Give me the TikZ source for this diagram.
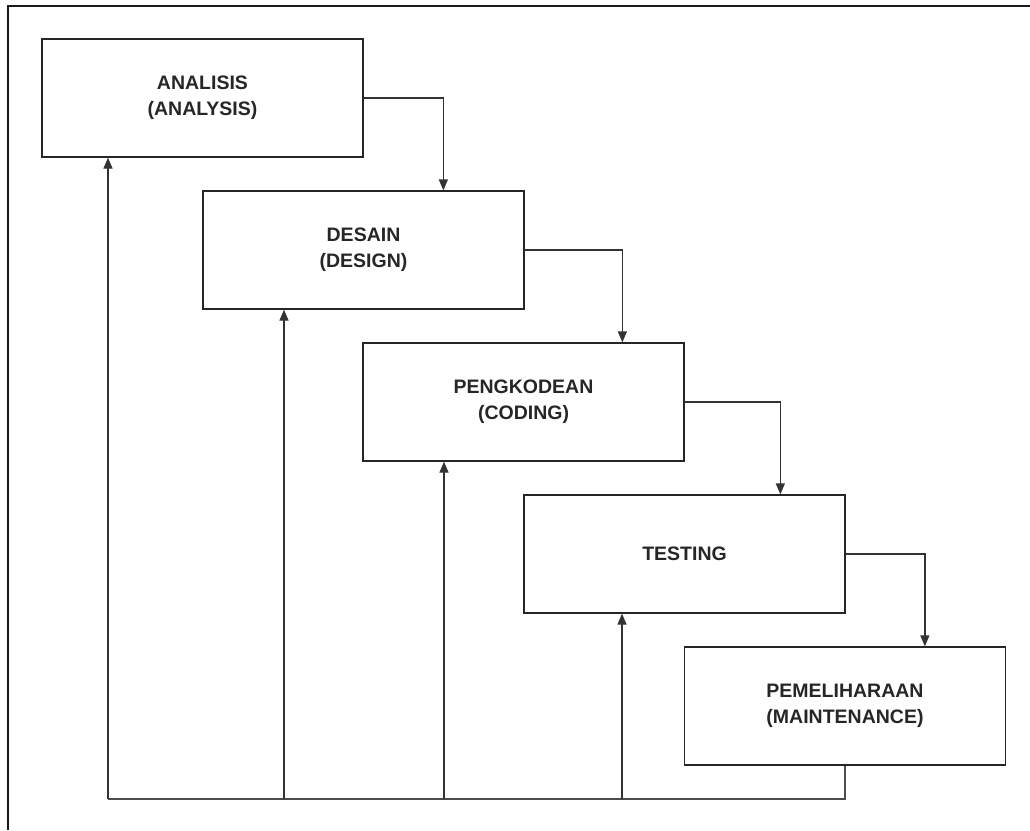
\documentclass[tikz,border=0pt]{standalone}
\usepackage{fontspec}
\setmainfont{Liberation Sans}
\usetikzlibrary{arrows.meta}
\begin{document}
\begin{tikzpicture}[x=1pt,y=-1pt,
  phase/.style={draw=black!85, line width=1.3pt, minimum width=321pt,
    minimum height=118pt, align=center, inner sep=0pt,
    font=\bfseries\fontsize{19.5}{26}\selectfont, text=black!85},
  flow/.style={draw=black!80, line width=1.3pt,
    -{Triangle[length=11pt,width=9pt]}},
  loop/.style={draw=black!70, line width=1.3pt},
]
\useasboundingbox (0,0) rectangle (1030,830);
% outer frame
\draw[line width=2pt, black!90] (8,830) -- (8,6) -- (1030,6);

% phases
\node[phase] (A) at (202.5,98) {ANALISIS\\(ANALYSIS)};
\node[phase] (D) at (363.5,250) {DESAIN\\(DESIGN)};
\node[phase] (P) at (523.5,402) {PENGKODEAN\\(CODING)};
\node[phase] (T) at (684.5,554) {TESTING};
\node[phase] (M) at (845,706) {PEMELIHARAAN\\(MAINTENANCE)};

% forward flow
\draw[flow] (A.east) -| ([xshift=241pt]D.north west);
\draw[flow] (D.east) -| ([xshift=260pt]P.north west);
\draw[flow] (P.east) -| ([xshift=257pt]T.north west);
\draw[flow] (T.east) -| ([xshift=241pt]M.north west);

% feedback loop
\coordinate (bA) at (108,799);
\coordinate (bD) at (284,799);
\coordinate (bP) at (444,799);
\coordinate (bT) at (622,799);
\draw[loop] (M.south) |- (bA);
\draw[flow] (bA) -- (bA |- A.south);
\draw[flow] (bD) -- (bD |- D.south);
\draw[flow] (bP) -- (bP |- P.south);
\draw[flow] (bT) -- (bT |- T.south);
\end{tikzpicture}
\end{document}
